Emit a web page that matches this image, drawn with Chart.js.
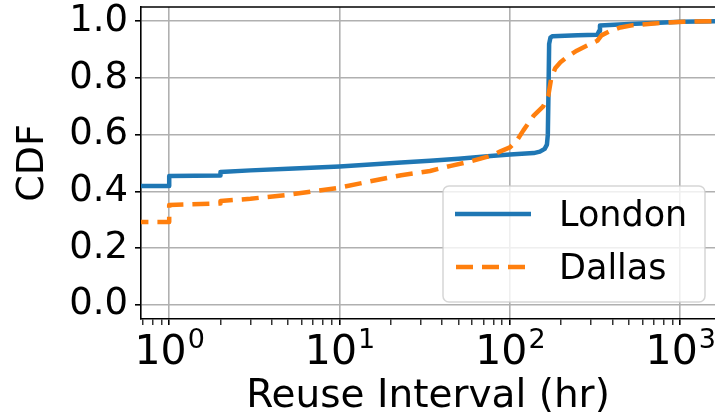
<!DOCTYPE html>
<html>
<head>
<meta charset="utf-8">
<script src="https://cdn.jsdelivr.net/npm/chart.js@4/dist/chart.umd.min.js"></script>
<style>
  html, body { margin: 0; padding: 0; background: #ffffff; }
  canvas { display: block; }
</style>
</head>
<body>
<canvas id="reuse-cdf" width="715" height="420"></canvas>
<script>
// values
const seriesNames = ["London", "Dallas"];

const londonHours = [0.6, 1, 1, 2, 2, 3, 5, 10, 23, 34, 50, 77, 100, 138, 150, 160, 165, 167, 168.5, 170, 173, 178, 250, 326, 334, 338, 500, 700, 1000, 1600];
const londonCdf = [0.419, 0.419, 0.454, 0.456, 0.468, 0.474, 0.48, 0.488, 0.502, 0.508, 0.515, 0.525, 0.53, 0.535, 0.54, 0.55, 0.565, 0.6, 0.75, 0.92, 0.942, 0.947, 0.95, 0.952, 0.965, 0.985, 0.99, 0.994, 0.998, 1.0];

const dallasHours = [0.6, 1, 1, 2, 2, 3, 5, 10, 15, 23, 34, 45, 60, 77, 88, 100, 110, 120, 138, 157, 168, 175, 185, 198, 220, 247, 284, 326, 345, 390, 445, 530, 700, 1040, 1600];
const dallasCdf = [0.292, 0.292, 0.352, 0.357, 0.366, 0.374, 0.388, 0.413, 0.435, 0.457, 0.472, 0.49, 0.507, 0.525, 0.541, 0.555, 0.58, 0.615, 0.667, 0.70, 0.737, 0.80, 0.835, 0.855, 0.877, 0.896, 0.914, 0.931, 0.95, 0.966, 0.978, 0.986, 0.992, 0.998, 1.0];

const yTicks = [0, 0.2, 0.4, 0.6, 0.8, 1.0];
const xMajorTicks = [1, 10, 100, 1000];
const xMinorTicks = [0.7, 0.8, 0.9, 2, 3, 4, 5, 6, 7, 8, 9, 20, 30, 40, 50, 60, 70, 80, 90, 200, 300, 400, 500, 600, 700, 800, 900];

const xTitle = "Reuse Interval (hr)";
const yTitle = "CDF";

const colors = { london: "#1f77b4", dallas: "#ff7f0e", grid: "#b0b0b0" };
const fontFamily = "'DejaVu Sans', sans-serif";

const toPoints = (xs, ys) => xs.map((x, i) => ({ x, y: ys[i] }));
const isMajor = (v) => xMajorTicks.includes(v);

const frameAndLabels = {
  id: "frameAndLabels",
  afterDraw(chart) {
    const { ctx, chartArea, scales } = chart;
    ctx.save();
    // top spine
    ctx.strokeStyle = "#000";
    ctx.lineWidth = 1.6;
    ctx.beginPath();
    ctx.moveTo(chartArea.left, chartArea.top);
    ctx.lineTo(chartArea.right, chartArea.top);
    ctx.stroke();

    // x tick labels 10^n
    ctx.fillStyle = "#000";
    ctx.textBaseline = "alphabetic";
    ctx.textAlign = "left";
    xMajorTicks.forEach((v) => {
      const px = scales.x.getPixelForValue(v);
      const exp = String(Math.round(Math.log10(v)));
      ctx.font = `41px ${fontFamily}`;
      const baseW = ctx.measureText("10").width;
      ctx.font = `27px ${fontFamily}`;
      const expW = ctx.measureText(exp).width;
      const start = px - (baseW + expW) / 2;
      ctx.font = `41px ${fontFamily}`;
      ctx.fillText("10", start, 364);
      ctx.font = `27px ${fontFamily}`;
      ctx.fillText(exp, start + baseW + 1, 348);
    });

    // legend
    const lx = 443, ly = 186, lw = 262, lh = 116;
    ctx.fillStyle = "rgba(255,255,255,0.8)";
    ctx.strokeStyle = "rgba(204,204,204,0.8)";
    ctx.lineWidth = 1.5;
    ctx.beginPath();
    ctx.roundRect(lx, ly, lw, lh, 6);
    ctx.fill();
    ctx.stroke();

    ctx.lineWidth = 4.5;
    ctx.strokeStyle = colors.london;
    ctx.beginPath();
    ctx.moveTo(455, 214);
    ctx.lineTo(531, 214);
    ctx.stroke();

    ctx.strokeStyle = colors.dallas;
    ctx.setLineDash([17, 9]);
    ctx.beginPath();
    ctx.moveTo(456, 267);
    ctx.lineTo(530, 267);
    ctx.stroke();
    ctx.setLineDash([]);

    ctx.fillStyle = "#000";
    ctx.font = `35px ${fontFamily}`;
    ctx.fillText(seriesNames[0], 559, 226);
    ctx.fillText(seriesNames[1], 559, 279);
    ctx.restore();
  },
};

new Chart(document.getElementById("reuse-cdf"), {
  type: "line",
  data: {
    datasets: [
      {
        label: seriesNames[0],
        data: toPoints(londonHours, londonCdf),
        borderColor: colors.london,
        borderWidth: 4.5,
        borderJoinStyle: "round",
        pointRadius: 0,
        tension: 0,
        order: 1,
      },
      {
        label: seriesNames[1],
        data: toPoints(dallasHours, dallasCdf),
        borderColor: colors.dallas,
        borderWidth: 4.5,
        borderDash: [17, 9],
        borderJoinStyle: "round",
        pointRadius: 0,
        tension: 0,
        order: 0,
      },
    ],
  },
  options: {
    responsive: false,
    animation: false,
    layout: { padding: { top: 7, right: 0, left: 0, bottom: 0 } },
    plugins: { legend: { display: false }, tooltip: { enabled: false } },
    scales: {
      x: {
        type: "logarithmic",
        min: 0.683,
        max: 1600,
        afterBuildTicks: (scale) => {
          scale.ticks = [...xMinorTicks, ...xMajorTicks]
            .sort((a, b) => a - b)
            .map((v) => ({ value: v, major: isMajor(v) }));
        },
        afterFit: (scale) => {
          scale.height = 101;
          scale.paddingLeft = 0;
          scale.paddingRight = 0;
        },
        ticks: { autoSkip: false, maxRotation: 0, callback: () => "" },
        grid: {
          color: (c) => (c.tick && isMajor(c.tick.value) ? colors.grid : "rgba(0,0,0,0)"),
          lineWidth: 1.6,
          tickColor: "#000",
          tickWidth: (c) => (c.tick && isMajor(c.tick.value) ? 1.6 : 1.2),
          tickLength: 6,
        },
        border: { color: "#000", width: 1.6 },
        title: {
          display: true,
          text: xTitle,
          color: "#000",
          font: { family: fontFamily, size: 39 },
          padding: { top: 0, bottom: 0 },
        },
      },
      y: {
        min: -0.05,
        max: 1.05,
        afterBuildTicks: (scale) => {
          scale.ticks = yTicks.map((v) => ({ value: v }));
        },
        afterFit: (scale) => {
          scale.width = 141;
          scale.paddingTop = 0;
          scale.paddingBottom = 0;
        },
        ticks: {
          color: "#000",
          font: { family: fontFamily, size: 37 },
          padding: 7,
          callback: (v) => Number(v).toFixed(1),
        },
        grid: { color: colors.grid, lineWidth: 1.6, tickColor: "#000", tickLength: 6 },
        border: { color: "#000", width: 1.6 },
        title: {
          display: true,
          text: yTitle,
          color: "#000",
          font: { family: fontFamily, size: 38 },
          padding: { top: 10, bottom: 0 },
        },
      },
    },
  },
  plugins: [frameAndLabels],
});
</script>
</body>
</html>
